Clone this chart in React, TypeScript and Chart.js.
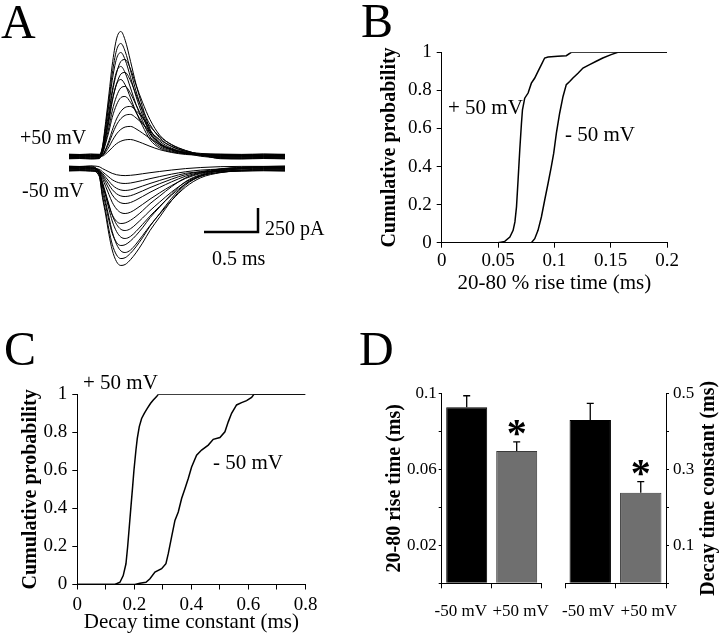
import React, { useEffect, useRef } from 'react';
import { Chart, registerables } from 'chart.js';

Chart.register(...registerables);

const FONT = "'Liberation Serif', 'Times New Roman', serif";

// ---------- Panel A: current traces (pA) sampled at these times (ms) ----------
const TRACE_TIME_MS = [0, 0.1, 0.2, 0.28, 0.31, 0.34, 0.37, 0.4, 0.44, 0.48, 0.52, 0.57, 0.62, 0.68, 0.75, 0.84, 0.95, 1.08, 1.22, 1.4, 1.6, 1.8, 2.0];

const PLUS_TRACES_PA = [
  [20, 16, 22, 18, 104, 365, 651, 950, 1224, 1302, 1211, 990, 755, 521, 286, 143, 78, 39, 25, 22, 17, 23, 19],
  [-16, -12, -19, -14, 94, 330, 589, 859, 1106, 1177, 1095, 895, 683, 471, 259, 129, 71, 35, 2, -13, -18, -15, -17],
  [8, 11, 6, 9, 87, 303, 542, 791, 1018, 1083, 1007, 823, 628, 433, 238, 119, 65, 32, 15, 7, 10, 5, 9],
  [-24, -21, -26, -22, 51, 222, 424, 657, 869, 990, 1010, 909, 747, 566, 384, 222, 121, 61, 20, -23, -26, -21, -25],
  [14, 17, 12, 15, 75, 263, 469, 685, 882, 938, 872, 713, 544, 375, 206, 103, 56, 28, 18, 16, 12, 15, 13],
  [-6, -3, -8, -5, 44, 193, 368, 569, 753, 858, 875, 788, 648, 490, 333, 193, 105, 53, 20, -4, -8, -5, -7],
  [24, 21, 26, 23, 64, 225, 401, 585, 754, 802, 746, 610, 465, 321, 176, 88, 48, 30, 27, 25, 22, 26, 23],
  [-12, -9, -14, -10, 36, 160, 306, 474, 627, 714, 729, 656, 539, 408, 277, 160, 87, 44, 12, -11, -14, -10, -13],
  [2, 5, 0, 3, 31, 138, 263, 406, 538, 613, 625, 563, 463, 350, 238, 138, 75, 38, 19, 4, 0, 3, 1],
  [-20, -17, -22, -18, 16, 78, 167, 271, 391, 469, 511, 521, 479, 406, 313, 208, 125, 63, 20, -19, -22, -18, -21],
  [16, 19, 14, 17, 13, 66, 140, 228, 329, 394, 429, 438, 403, 342, 263, 175, 105, 53, 32, 18, 14, 17, 15],
  [-2, 1, -4, 0, 9, 47, 100, 163, 235, 282, 307, 313, 288, 244, 188, 125, 75, 38, 15, -1, -4, 0, -3],
  [10, 13, 8, 11, 5, 27, 57, 92, 133, 159, 173, 177, 163, 138, 106, 71, 42, 21, 14, 12, 8, 11, 9],
];

const MINUS_TRACES_PA = [
  [-18, -15, -20, -81, -303, -485, -687, -848, -970, -1010, -1000, -949, -879, -778, -646, -505, -333, -172, -81, -40, -22, -16, -19],
  [14, 17, 12, -75, -281, -450, -638, -788, -900, -938, -929, -882, -816, -722, -600, -469, -310, -159, -75, -20, 5, 16, 13],
  [-8, -5, -10, -53, -193, -350, -508, -656, -788, -858, -875, -849, -788, -700, -595, -473, -333, -193, -96, -44, -18, -6, -9],
  [22, 19, 24, -64, -241, -385, -545, -674, -770, -802, -794, -754, -698, -618, -513, -401, -265, -136, -64, -10, 12, 20, 23],
  [-22, -19, -24, -44, -160, -292, -423, -547, -656, -714, -729, -707, -656, -583, -496, -394, -277, -160, -80, -40, -26, -20, -23],
  [6, 9, 4, -39, -142, -258, -375, -485, -581, -633, -646, -627, -581, -517, -439, -349, -245, -142, -71, -26, -2, 8, 5],
  [-14, -11, -16, -46, -172, -275, -390, -481, -550, -573, -567, -539, -499, -441, -367, -287, -189, -97, -46, -28, -17, -12, -15],
  [18, 21, 16, -28, -103, -188, -272, -352, -422, -460, -469, -455, -422, -375, -319, -253, -178, -103, -52, -5, 12, 20, 17],
  [-2, 1, -4, -22, -80, -146, -212, -274, -329, -358, -365, -354, -329, -292, -248, -197, -139, -80, -40, -18, -7, 0, -3],
  [10, 13, 8, -18, -64, -117, -169, -219, -263, -286, -292, -283, -263, -234, -199, -158, -111, -64, -32, -5, 6, 12, 9],
  [-26, -23, -28, -34, -50, -92, -133, -172, -206, -224, -229, -222, -206, -183, -156, -124, -87, -50, -35, -30, -27, -24, -27],
  [2, 5, 0, -9, -34, -62, -90, -117, -140, -153, -156, -151, -140, -125, -106, -84, -59, -34, -17, -6, 0, 4, 1],
  [24, 21, 26, 18, -1, -18, -35, -51, -65, -72, -74, -71, -65, -55, -44, -31, -16, -1, 10, 19, 22, 22, 25],
];

const PLUS_DISPLAY_OFFSET_PA = 62.5;
const MINUS_DISPLAY_OFFSET_PA = -62.5;
const SCALE_BAR_X_MS = [1.25, 1.75, 1.75];
const SCALE_BAR_Y_PA = [-724, -724, -474];

// ---------- Panel B: cumulative distributions of 20-80 % rise time ----------
const B_PLUS_X = [0, 0.0501, 0.056, 0.0605, 0.0634, 0.065, 0.0664, 0.0678, 0.0693, 0.0708, 0.0717, 0.0737, 0.0767, 0.0796, 0.0826, 0.0855, 0.0885, 0.0914, 0.0944, 0.103, 0.1106, 0.115, 0.2];
const B_PLUS_Y = [0, 0, 0.007, 0.03, 0.065, 0.109, 0.188, 0.329, 0.487, 0.627, 0.698, 0.759, 0.786, 0.838, 0.865, 0.9, 0.935, 0.97, 0.975, 0.979, 0.982, 1, 1];
const B_MINUS_X = [0, 0.0796, 0.0826, 0.0855, 0.0885, 0.0914, 0.0944, 0.0973, 0.0994, 0.1018, 0.1047, 0.1077, 0.1106, 0.1136, 0.1165, 0.121, 0.1254, 0.1313, 0.1372, 0.143, 0.1504, 0.1563, 0.2];
const B_MINUS_Y = [0, 0, 0.021, 0.065, 0.135, 0.223, 0.311, 0.399, 0.469, 0.575, 0.68, 0.768, 0.83, 0.847, 0.865, 0.89, 0.917, 0.935, 0.953, 0.97, 0.988, 1, 1];

// ---------- Panel C: cumulative distributions of decay time constant ----------
const C_PLUS_X = [0, 0.132, 0.1495, 0.161, 0.1706, 0.1764, 0.1822, 0.188, 0.1939, 0.1986, 0.2056, 0.2103, 0.2173, 0.2255, 0.2348, 0.2453, 0.257, 0.2664, 0.278, 0.2839, 0.8];
const C_PLUS_Y = [0, 0, 0.012, 0.047, 0.109, 0.197, 0.302, 0.408, 0.513, 0.601, 0.707, 0.768, 0.83, 0.873, 0.9, 0.926, 0.953, 0.97, 0.988, 1, 1];
const C_MINUS_X = [0, 0.2021, 0.2196, 0.2407, 0.2547, 0.2722, 0.2956, 0.3107, 0.3189, 0.3306, 0.3423, 0.354, 0.3657, 0.3773, 0.389, 0.4007, 0.4182, 0.4357, 0.4591, 0.4766, 0.5, 0.5175, 0.5292, 0.5409, 0.5584, 0.5759, 0.5935, 0.611, 0.6192, 0.8];
const C_MINUS_Y = [0, 0, 0.007, 0.012, 0.03, 0.065, 0.083, 0.109, 0.162, 0.25, 0.337, 0.381, 0.452, 0.504, 0.557, 0.618, 0.68, 0.707, 0.733, 0.763, 0.773, 0.803, 0.855, 0.9, 0.944, 0.956, 0.967, 0.984, 1, 1];

// ---------- Panel D: means and SEM ----------
const D_GROUPS = ['-50 mV', '+50 mV'];
const D_RISE_MEAN = [0.0926, 0.0696];
const D_RISE_SEM = [0.0061, 0.0048];
const D_DECAY_MEAN = [0.4297, 0.2384];
const D_DECAY_SEM = [0.044, 0.029];
const D_SIGNIFICANT = [false, true];
const D_COLORS = ['#000000', '#6f6f6f'];

const BLACK = '#000';

const baseOptions = (padding: any) => ({
  responsive: false,
  animation: false,
  devicePixelRatio: 1,
  events: [],
  layout: { padding },
  plugins: { legend: { display: false }, tooltip: { enabled: false } },
});

const axisLines = (tickLength: number) => ({
  grid: { drawOnChartArea: false, drawTicks: true, tickLength, color: BLACK, lineWidth: 1 },
  border: { display: true, color: BLACK, width: 1 },
});

const cdfDataset = (xs: number[], ys: number[]) => ({
  data: xs.map((x, i) => ({ x, y: ys[i] })),
  borderColor: BLACK,
  borderWidth: 1.5,
  pointRadius: 0,
  tension: 0,
  fill: false,
});

const traceDataset = (vals: number[], offset: number) => ({
  data: TRACE_TIME_MS.map((t, i) => ({ x: t, y: vals[i] + offset })),
  borderColor: BLACK,
  borderWidth: 1,
  pointRadius: 0,
  cubicInterpolationMode: 'monotone',
  fill: false,
});

const errorBarPlugin = (sems: number[], sig: boolean[]) => ({
  id: 'errorBars',
  afterDatasetsDraw(chart: any) {
    const ctx = chart.ctx;
    const meta = chart.getDatasetMeta(0);
    const ys = chart.scales.y;
    const data = chart.data.datasets[0].data as number[];
    meta.data.forEach((bar: any, i: number) => {
      const top = ys.getPixelForValue(data[i] + sems[i]);
      ctx.save();
      ctx.strokeStyle = BLACK;
      ctx.lineWidth = 1.3;
      ctx.beginPath();
      ctx.moveTo(bar.x, bar.y);
      ctx.lineTo(bar.x, top);
      ctx.moveTo(bar.x - 3.5, top);
      ctx.lineTo(bar.x + 3.5, top);
      ctx.stroke();
      if (sig[i]) {
        const fs = 40;
        ctx.fillStyle = BLACK;
        ctx.font = `bold ${fs}px ${FONT}`;
        ctx.textAlign = 'center';
        ctx.textBaseline = 'alphabetic';
        ctx.fillText('*', bar.x, top - 15.5 + 0.49 * fs);
      }
      ctx.restore();
    });
  },
});

// Category labels of the bar groups, nudged sideways as in the original figure.
const groupLabelPlugin = (nudge: number[]) => ({
  id: 'groupLabels',
  afterDraw(chart: any) {
    const xs = chart.scales.x;
    const ctx = chart.ctx;
    ctx.save();
    ctx.fillStyle = BLACK;
    ctx.font = `17px ${FONT}`;
    ctx.textAlign = 'center';
    ctx.textBaseline = 'middle';
    (chart.data.labels as string[]).forEach((lab, i) => {
      ctx.fillText(lab, xs.getPixelForTick(i) + nudge[i], xs.top + 28.5);
    });
    ctx.restore();
  },
});

// Right-hand axis title reading bottom-to-top, like the left one.
const rightTitlePlugin = (text: string, fromRight: number) => ({
  id: 'rightTitle',
  afterDraw(chart: any) {
    const s = chart.scales.y;
    const ctx = chart.ctx;
    ctx.save();
    ctx.translate(s.right - fromRight, (s.top + s.bottom) / 2);
    ctx.rotate(-Math.PI / 2);
    ctx.fillStyle = BLACK;
    ctx.font = `bold 20px ${FONT}`;
    ctx.textAlign = 'center';
    ctx.textBaseline = 'middle';
    ctx.fillText(text, 0, 0);
    ctx.restore();
  },
});

function configA(): any {
  const datasets: any[] = [
    ...PLUS_TRACES_PA.map((v) => traceDataset(v, PLUS_DISPLAY_OFFSET_PA)),
    ...MINUS_TRACES_PA.map((v) => traceDataset(v, MINUS_DISPLAY_OFFSET_PA)),
    {
      data: SCALE_BAR_X_MS.map((x, i) => ({ x, y: SCALE_BAR_Y_PA[i] })),
      borderColor: BLACK,
      borderWidth: 2.5,
      pointRadius: 0,
      tension: 0,
      fill: false,
    },
  ];
  return {
    type: 'line',
    data: { datasets },
    options: {
      ...baseOptions({ left: 69, right: 75, top: 20, bottom: 20 }),
      scales: {
        x: { type: 'linear', display: false, min: 0, max: 2 },
        y: { type: 'linear', display: false, min: -1328, max: 1484 },
      },
    },
  };
}

function configCdf(opts: {
  sets: any[];
  padding: any;
  xMax: number;
  xStep: number;
  xCb: (v: number) => string;
  xHeight: number;
  yWidth: number;
  xTickPad: number;
  xTitle: string;
  xTitlePadBottom: number;
  yTitlePadTop: number;
}): any {
  return {
    type: 'line',
    data: { datasets: opts.sets },
    options: {
      ...baseOptions(opts.padding),
      scales: {
        x: {
          type: 'linear',
          min: 0,
          max: opts.xMax,
          afterFit: (s: any) => { s.height = opts.xHeight; },
          ticks: {
            stepSize: opts.xStep,
            autoSkip: false,
            maxRotation: 0,
            padding: opts.xTickPad,
            color: BLACK,
            font: { size: 19, family: FONT },
            callback: opts.xCb,
          },
          ...axisLines(5),
          title: {
            display: true,
            text: opts.xTitle,
            color: BLACK,
            font: { size: 21, family: FONT },
            padding: { top: 0, bottom: opts.xTitlePadBottom },
          },
        },
        y: {
          type: 'linear',
          min: 0,
          max: 1,
          afterFit: (s: any) => { s.width = opts.yWidth; },
          ticks: {
            stepSize: 0.2,
            autoSkip: false,
            padding: 5,
            color: BLACK,
            font: { size: 19, family: FONT },
            callback: (v: number) => String(Math.round(v * 10) / 10),
          },
          ...axisLines(5),
          title: {
            display: true,
            text: 'Cumulative probability',
            color: BLACK,
            font: { size: 20, family: FONT, weight: 'bold' },
            padding: { top: opts.yTitlePadTop, bottom: 0 },
          },
        },
      },
    },
  };
}

function configBars(opts: {
  means: number[];
  sems: number[];
  yMax: number;
  yStep: number;
  yCb: (v: number) => string;
  yTitle: string;
  position: 'left' | 'right';
  padding: any;
  yWidth: number;
  yTickPad: number;
  yTitlePadTop: number;
  nudge: number[];
}): any {
  const isRight = opts.position === 'right';
  const plugins: any[] = [errorBarPlugin(opts.sems, D_SIGNIFICANT), groupLabelPlugin(opts.nudge)];
  if (isRight) plugins.push(rightTitlePlugin(opts.yTitle, 11));
  return {
    type: 'bar',
    data: {
      labels: D_GROUPS,
      datasets: [
        {
          data: opts.means,
          backgroundColor: D_COLORS,
          borderColor: ['#000000', '#3a3a3a'],
          borderWidth: 1,
          barPercentage: 0.82,
          categoryPercentage: 1,
        },
      ],
    },
    options: {
      ...baseOptions(opts.padding),
      scales: {
        x: {
          type: 'category',
          offset: true,
          afterFit: (s: any) => { s.height = 52.7; },
          ticks: {
            autoSkip: false,
            maxRotation: 0,
            padding: 13,
            color: BLACK,
            font: { size: 17, family: FONT },
            callback: () => '',
          },
          grid: { drawOnChartArea: false, drawTicks: true, tickLength: 5, color: BLACK, lineWidth: 1, offset: true },
          border: { display: true, color: BLACK, width: 1 },
        },
        y: {
          type: 'linear',
          position: opts.position,
          min: 0,
          max: opts.yMax,
          afterFit: (s: any) => { s.width = opts.yWidth; },
          ticks: {
            stepSize: opts.yStep,
            autoSkip: false,
            padding: opts.yTickPad,
            color: BLACK,
            font: { size: 17, family: FONT },
            callback: opts.yCb,
          },
          ...axisLines(3),
          title: {
            display: !isRight,
            text: opts.yTitle,
            color: BLACK,
            font: { size: 20, family: FONT, weight: 'bold' },
            padding: { top: opts.yTitlePadTop, bottom: 0 },
          },
        },
      },
    },
    plugins,
  };
}

const CANVASES = [
  { key: 'A', left: 0, top: 0, width: 360, height: 310 },
  { key: 'B', left: 360, top: 0, width: 360, height: 310 },
  { key: 'C', left: 0, top: 320, width: 360, height: 316 },
  { key: 'D1', left: 360, top: 320, width: 190, height: 316 },
  { key: 'D2', left: 550, top: 320, width: 170, height: 316 },
];

const TEXTS = [
  { t: 'A', x: 1, base: 38, fs: 48 },
  { t: 'B', x: 361, base: 37, fs: 48 },
  { t: 'C', x: 4, base: 365, fs: 48 },
  { t: 'D', x: 359, base: 365, fs: 48 },
  { t: '+50 mV', x: 20, base: 143.5, fs: 20 },
  { t: '-50 mV', x: 22, base: 196.7, fs: 20 },
  { t: '250 pA', x: 265, base: 235, fs: 20 },
  { t: '0.5 ms', x: 212, base: 265, fs: 20 },
  { t: '+ 50 mV', x: 448, base: 115, fs: 21 },
  { t: '- 50 mV', x: 565, base: 141.7, fs: 21 },
  { t: '+ 50 mV', x: 83, base: 390, fs: 21 },
  { t: '- 50 mV', x: 213, base: 470, fs: 21 },
];

export default function App() {
  const refs = useRef<Record<string, HTMLCanvasElement | null>>({});

  useEffect(() => {
    Chart.defaults.font.family = FONT;
    Chart.defaults.color = BLACK;
    const evenTenth = (v: number) => {
      const k = Math.round(v * 10);
      return k % 2 === 0 ? String(k / 10) : '';
    };
    const configs: Record<string, any> = {
      A: configA(),
      B: configCdf({
        sets: [cdfDataset(B_PLUS_X, B_PLUS_Y), cdfDataset(B_MINUS_X, B_MINUS_Y)],
        padding: { left: 0, right: 53, top: 52.3, bottom: 0 },
        xMax: 0.2,
        xStep: 0.05,
        xCb: (v: number) => String(Math.round(v * 100) / 100),
        xHeight: 67.3,
        yWidth: 81.7,
        xTickPad: 2,
        xTitle: '20-80 % rise time (ms)',
        xTitlePadBottom: 14.4,
        yTitlePadTop: 17.5,
      }),
      C: configCdf({
        sets: [cdfDataset(C_PLUS_X, C_PLUS_Y), cdfDataset(C_MINUS_X, C_MINUS_Y)],
        padding: { left: 0, right: 54.5, top: 74.3, bottom: 0 },
        xMax: 0.8,
        xStep: 0.1,
        xCb: evenTenth,
        xHeight: 51.5,
        yWidth: 77.3,
        xTickPad: 4,
        xTitle: 'Decay time constant (ms)',
        xTitlePadBottom: 1.4,
        yTitlePadTop: 19,
      }),
      D1: configBars({
        means: D_RISE_MEAN,
        sems: D_RISE_SEM,
        yMax: 0.1,
        yStep: 0.02,
        yCb: (v: number) => {
          const k = Math.round(v * 100);
          return k === 2 || k === 6 || k === 10 ? String(k / 100) : '';
        },
        yTitle: '20-80 rise time (ms)',
        position: 'left',
        padding: { left: 0, right: 8.3, top: 73.3, bottom: 0 },
        yWidth: 81.7,
        yTickPad: 2,
        yTitlePadTop: 23,
        nudge: [-6, 4],
      }),
      D2: configBars({
        means: D_DECAY_MEAN,
        sems: D_DECAY_SEM,
        yMax: 0.5,
        yStep: 0.1,
        yCb: (v: number) => {
          const k = Math.round(v * 10);
          return k === 1 || k === 3 || k === 5 ? String(k / 10) : '';
        },
        yTitle: 'Decay time constant (ms)',
        position: 'right',
        padding: { left: 15, right: 0, top: 73.3, bottom: 0 },
        yWidth: 54,
        yTickPad: 4,
        yTitlePadTop: 0,
        nudge: [-2, 8],
      }),
    };
    const charts = CANVASES.map((c) => new Chart(refs.current[c.key] as HTMLCanvasElement, configs[c.key]));
    return () => charts.forEach((ch) => ch.destroy());
  }, []);

  return (
    <div style={{ position: 'absolute', left: 0, top: 0, width: 720, height: 636, background: '#fff', overflow: 'hidden' }}>
      {CANVASES.map((c) => (
        <canvas
          key={c.key}
          ref={(el) => { refs.current[c.key] = el; }}
          width={c.width}
          height={c.height}
          style={{ position: 'absolute', left: c.left, top: c.top, width: c.width, height: c.height }}
        />
      ))}
      {TEXTS.map((t, i) => (
        <div
          key={i}
          style={{
            position: 'absolute',
            left: t.x,
            top: t.base - 0.8375 * t.fs,
            fontFamily: FONT,
            fontSize: t.fs,
            lineHeight: `${t.fs}px`,
            color: '#000',
            whiteSpace: 'nowrap',
          }}
        >
          {t.t}
        </div>
      ))}
    </div>
  );
}
